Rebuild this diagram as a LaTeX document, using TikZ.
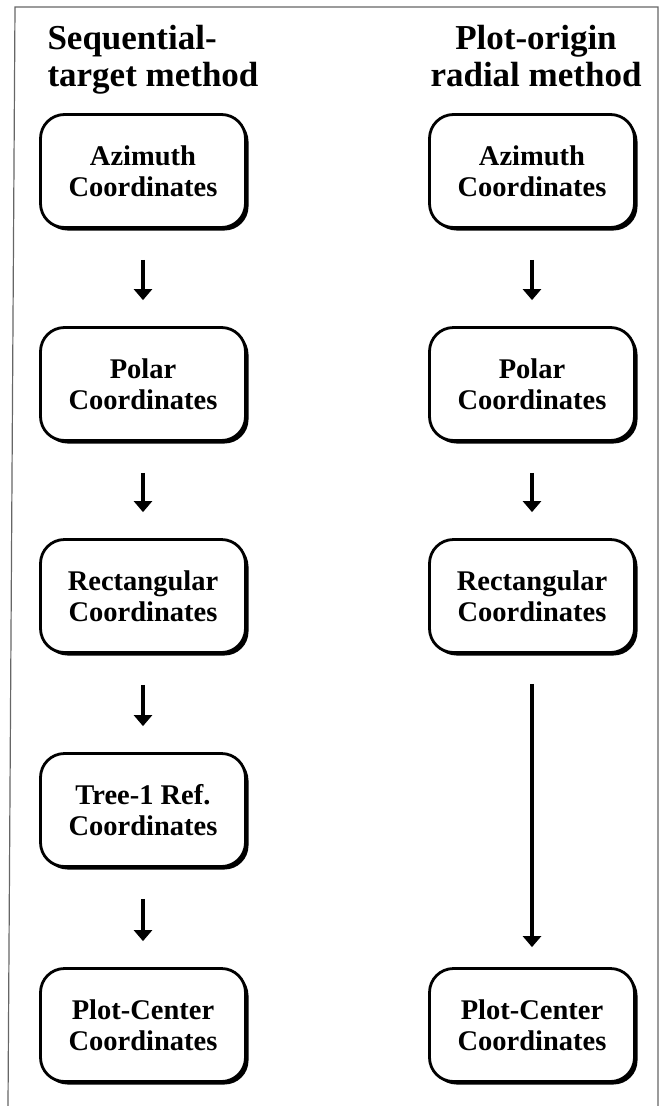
\documentclass[tikz,border=0pt]{standalone}
\usepackage{fontspec}
\setmainfont{Liberation Serif}
\usetikzlibrary{arrows.meta,shadows}

\begin{document}
\begin{tikzpicture}[x=1pt,y=-1pt,
    stage/.style={draw,line width=2.8pt,rounded corners=24pt,fill=white,
      minimum width=205pt,minimum height=113pt,align=center,
      font=\bfseries\fontsize{28.5}{31}\selectfont,
      drop shadow={shadow xshift=3pt,shadow yshift=-3pt,opacity=1,fill=black}},
    head/.style={font=\bfseries\fontsize{35}{37}\selectfont},
    flow/.style={line width=4pt,-{Triangle[width=18pt,length=11pt]}}]
  \useasboundingbox (0,0) rectangle (666,1106);
  \draw[line width=1.2pt,black!60] (8,1106) -- (15,7) -- (658,7) -- (658,1106);

  \node[head,anchor=west,align=left] (hl) at (44,60) {Sequential-\\target method};
  \node[head,align=center] (hr) at (536,56) {Plot-origin\\radial method};

  \node[stage] (l1) at (143,171) {Azimuth\\Coordinates};
  \node[stage] (l2) at (143,384) {Polar\\Coordinates};
  \node[stage] (l3) at (143,596) {Rectangular\\Coordinates};
  \node[stage] (l4) at (143,810) {Tree-1 Ref.\\Coordinates};
  \node[stage] (l5) at (143,1025) {Plot-Center\\Coordinates};

  \node[stage] (r1) at (532,171) {Azimuth\\Coordinates};
  \node[stage] (r2) at (532,384) {Polar\\Coordinates};
  \node[stage] (r3) at (532,596) {Rectangular\\Coordinates};
  \node[stage] (r5) at (532,1025) {Plot-Center\\Coordinates};

  \draw[flow,shorten <=31pt,shorten >=26pt] (l1) -- (l2);
  \draw[flow,shorten <=31pt,shorten >=26pt] (l2) -- (l3);
  \draw[flow,shorten <=31pt,shorten >=26pt] (l3) -- (l4);
  \draw[flow,shorten <=31pt,shorten >=26pt] (l4) -- (l5);
  \draw[flow,shorten <=31pt,shorten >=26pt] (r1) -- (r2);
  \draw[flow,shorten <=31pt,shorten >=26pt] (r2) -- (r3);
  \draw[flow,shorten <=30pt,shorten >=20pt] (r3) -- (r5);
\end{tikzpicture}
\end{document}
